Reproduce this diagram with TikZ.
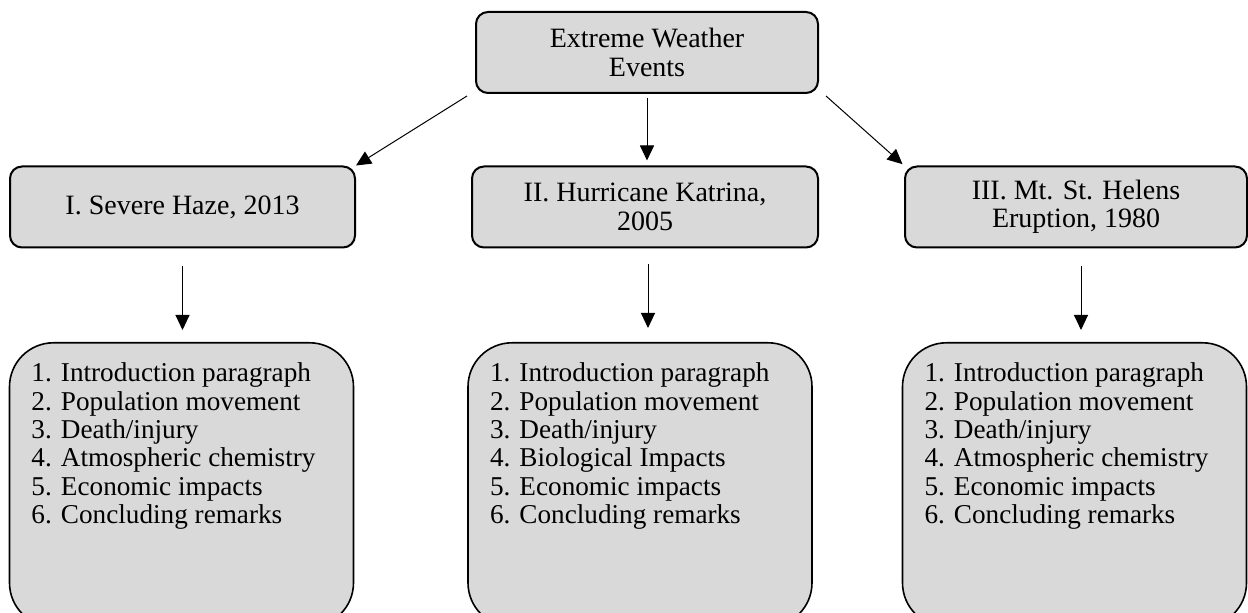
\documentclass[tikz,border=0pt]{standalone}
\usepackage{fontspec}
\setmainfont{Liberation Serif}
\usetikzlibrary{arrows.meta}
\definecolor{boxgray}{RGB}{217,217,217}
\newcommand{\topiclines}[1]{\parbox[c][122pt][t]{150pt}{\raggedright\fontsize{13.6}{14.2}\selectfont #1}}
\begin{document}
\begin{tikzpicture}[x=0.5pt,y=-0.5pt,
		font=\fontsize{14}{14.2}\selectfont,
		event/.style={draw=black,fill=boxgray,line width=1pt,rounded corners=6pt,minimum height=40.5pt,align=center,inner sep=0pt},
		topic/.style={draw=black,fill=boxgray,line width=0.8pt,rounded corners=22pt,anchor=north,inner sep=10pt,minimum width=172pt},
		arr/.style={-{Triangle[length=7.5pt,width=7pt]},line width=0.5pt}]
		\useasboundingbox (0,0) rectangle (1248,613);
		\node at (647,52.5) [event,minimum width=171pt] (weather) {Extreme Weather\\Events};
		\node at (182.5,207) [event,minimum width=172.5pt] (haze) {I. Severe Haze, 2013};
		\node at (645,207) [event,minimum width=173pt] (katrina) {II. Hurricane Katrina,\\2005};
		\node at (1076,207) [event,minimum width=171pt] (helens) {III. Mt. St. Helens\\Eruption, 1980};
		\node at (181.5,342) [topic] (hazelist) {\topiclines{1. Introduction paragraph\\2. Population movement\\3. Death/injury\\4. Atmospheric chemistry\\5. Economic impacts\\6. Concluding remarks}};
		\node at (640,342) [topic] (katrinalist) {\topiclines{1. Introduction paragraph\\2. Population movement\\3. Death/injury\\4. Biological Impacts\\5. Economic impacts\\6. Concluding remarks}};
		\node at (1074.5,342) [topic] (helenslist) {\topiclines{1. Introduction paragraph\\2. Population movement\\3. Death/injury\\4. Atmospheric chemistry\\5. Economic impacts\\6. Concluding remarks}};
		\draw[arr] ([xshift=-4pt,yshift=-1pt]weather.south west) -- (haze.north east);
		\draw[arr,shorten <=2pt,shorten >=2.5pt] (weather.south) -- (weather.south |- katrina.north);
		\draw[arr,shorten >=1pt] ([xshift=3.5pt,yshift=-1pt]weather.south east) -- (helens.north west);
		\draw[arr,shorten <=9pt,shorten >=6pt] (haze.south) -- (haze.south |- hazelist.north);
		\draw[arr,shorten <=8pt,shorten >=7pt] ([xshift=1.5pt]katrina.south) -- ([xshift=1.5pt]katrina.south |- katrinalist.north);
		\draw[arr,shorten <=9pt,shorten >=6pt] ([xshift=2.5pt]helens.south) -- ([xshift=2.5pt]helens.south |- helenslist.north);
	\end{tikzpicture}
\end{document}
